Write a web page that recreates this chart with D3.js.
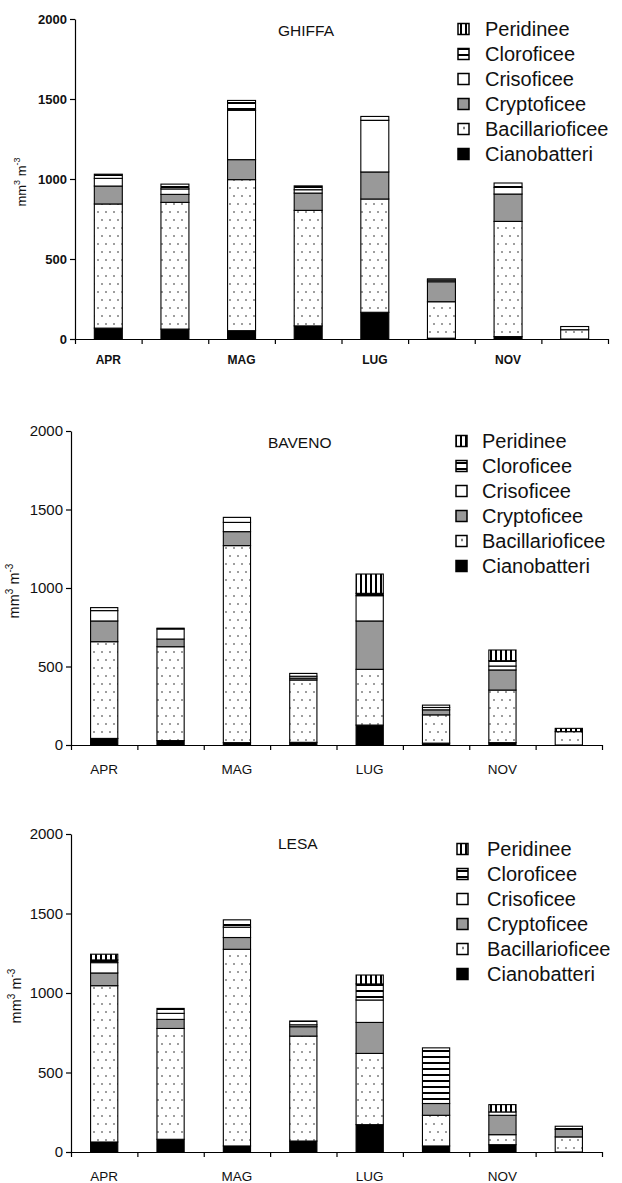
<!DOCTYPE html>
<html><head><meta charset="utf-8">
<script src="https://cdn.jsdelivr.net/npm/d3@7"></script>
<style>
body{margin:0;background:#fff;}
svg{display:block;}
text{font-family:"Liberation Sans",Arial,sans-serif;fill:#111;}
</style></head>
<body>
<svg id="chart" width="622" height="1183"></svg>
<script>
// ---- DATA ----
const categories = ["APR", "", "MAG", "", "LUG", "", "NOV", ""];
const seriesNames = ["Cianobatteri", "Bacillarioficee", "Cryptoficee", "Crisoficee", "Cloroficee", "Peridinee"];
const legendOrder = ["Peridinee", "Cloroficee", "Crisoficee", "Cryptoficee", "Bacillarioficee", "Cianobatteri"];
const yTicks = [0, 500, 1000, 1500, 2000];
const sites = ["GHIFFA", "BAVENO", "LESA"];

const ghiffaCianobatteri    = [68, 62, 52, 82, 167, 5, 15, 0];
const ghiffaBacillarioficee = [776, 792, 944, 722, 708, 228, 720, 58];
const ghiffaCryptoficee     = [112, 50, 125, 108, 169, 125, 171, 0];
const ghiffaCrisoficee      = [48, 34, 308, 21, 323, 10, 42, 0];
const ghiffaCloroficee      = [26, 30, 62, 24, 24, 8, 27, 20];
const ghiffaPeridinee       = [0, 0, 0, 0, 0, 0, 0, 0];

const bavenoCianobatteri    = [42, 28, 15, 17, 127, 12, 15, 0];
const bavenoBacillarioficee = [616, 598, 1255, 397, 355, 180, 335, 85];
const bavenoCryptoficee     = [132, 49, 89, 12, 308, 32, 128, 0];
const bavenoCrisoficee      = [66, 64, 59, 12, 161, 15, 25, 0];
const bavenoCloroficee      = [19, 0, 32, 18, 15, 15, 34, 0];
const bavenoPeridinee       = [0, 5, 0, 0, 123, 0, 68, 21];

const lesaCianobatteri      = [63, 80, 38, 69, 172, 38, 46, 0];
const lesaBacillarioficee   = [983, 697, 1237, 660, 448, 193, 63, 95];
const lesaCryptoficee       = [80, 57, 74, 59, 195, 74, 122, 48];
const lesaCrisoficee        = [65, 38, 65, 12, 141, 0, 21, 0];
const lesaCloroficee        = [17, 31, 46, 24, 101, 350, 0, 19];
const lesaPeridinee         = [36, 0, 0, 0, 56, 0, 46, 0];

const siteSeries = [
  [ghiffaCianobatteri, ghiffaBacillarioficee, ghiffaCryptoficee, ghiffaCrisoficee, ghiffaCloroficee, ghiffaPeridinee],
  [bavenoCianobatteri, bavenoBacillarioficee, bavenoCryptoficee, bavenoCrisoficee, bavenoCloroficee, bavenoPeridinee],
  [lesaCianobatteri, lesaBacillarioficee, lesaCryptoficee, lesaCrisoficee, lesaCloroficee, lesaPeridinee]
];

// ---- LAYOUT ----
const layouts = [
  {x0: 75, x1: 608, yTop: 19, yZero: 339, pad: 0.58, tickFont: 13, bold: true, titleX: 278, titleY: 36,
   xLabY: 364, xLabFont: 12, yLabX: 26, legSw: 458, legTx: 485, legY: 29},
  {x0: 71, x1: 602, yTop: 431, yZero: 745, pad: 0.59, tickFont: 15, bold: false, titleX: 268, titleY: 448,
   xLabY: 774, xLabFont: 13.5, yLabX: 19, legSw: 456, legTx: 482, legY: 441},
  {x0: 71, x1: 602, yTop: 834, yZero: 1152, pad: 0.59, tickFont: 15, bold: false, titleX: 278, titleY: 849,
   xLabY: 1181, xLabFont: 13.5, yLabX: 21, legSw: 457, legTx: 487, legY: 849}
];

const svg = d3.select("#chart");
const defs = svg.append("defs");

// patterns
const pDots = defs.append("pattern").attr("id", "dots").attr("patternUnits", "userSpaceOnUse")
  .attr("width", 8).attr("height", 16);
pDots.append("rect").attr("width", 8).attr("height", 16).attr("fill", "#fff");
pDots.append("circle").attr("cx", 2).attr("cy", 4).attr("r", 0.8).attr("fill", "#222");
pDots.append("circle").attr("cx", 6).attr("cy", 12).attr("r", 0.8).attr("fill", "#222");

const pDotsLeg = defs.append("pattern").attr("id", "dotsLeg").attr("patternUnits", "objectBoundingBox")
  .attr("width", 1).attr("height", 1);
pDotsLeg.append("rect").attr("width", 11).attr("height", 11).attr("fill", "#fff");
pDotsLeg.append("circle").attr("cx", 6).attr("cy", 4.5).attr("r", 1).attr("fill", "#222");

const pH = defs.append("pattern").attr("id", "hstripe").attr("patternUnits", "userSpaceOnUse")
  .attr("width", 8).attr("height", 6);
pH.append("rect").attr("width", 8).attr("height", 6).attr("fill", "#fff");
pH.append("rect").attr("y", 0).attr("width", 8).attr("height", 2).attr("fill", "#000");

const pV = defs.append("pattern").attr("id", "vstripe").attr("patternUnits", "userSpaceOnUse")
  .attr("width", 5).attr("height", 8);
pV.append("rect").attr("width", 5).attr("height", 8).attr("fill", "#fff");
pV.append("rect").attr("x", 0).attr("width", 2).attr("height", 8).attr("fill", "#000");

const fills = {
  Cianobatteri: "#000",
  Bacillarioficee: "url(#dots)",
  Cryptoficee: "#999",
  Crisoficee: "#fff",
  Cloroficee: "url(#hstripe)",
  Peridinee: "url(#vstripe)"
};
const legFills = Object.assign({}, fills, {Bacillarioficee: "url(#dotsLeg)"});

sites.forEach((site, si) => {
  const L = layouts[si];
  const g = svg.append("g");
  const rows = categories.map((c, i) => {
    const r = {idx: i};
    seriesNames.forEach((s, k) => r[s] = siteSeries[si][k][i]);
    return r;
  });
  const stack = d3.stack().keys(seriesNames)(rows);

  const x = d3.scaleBand().domain(d3.range(categories.length)).range([L.x0, L.x1])
    .paddingInner(L.pad).paddingOuter(L.pad / 2);
  const y = d3.scaleLinear().domain([0, 2000]).range([L.yZero, L.yTop]);

  // bars
  stack.forEach(layer => {
    g.append("g").selectAll("rect").data(layer.filter(d => d[1] - d[0] > 0)).join("rect")
      .attr("x", d => x(d.data.idx))
      .attr("width", x.bandwidth())
      .attr("y", d => y(d[1]))
      .attr("height", d => y(d[0]) - y(d[1]))
      .attr("fill", fills[layer.key])
      .attr("stroke", "#000")
      .attr("stroke-width", 1.1);
  });

  // y axis
  const yAx = g.append("g").attr("transform", `translate(${L.x0},0)`)
    .call(d3.axisLeft(y).tickValues(yTicks).tickFormat(d3.format("d")).tickSize(5).tickPadding(3).tickSizeOuter(0));
  yAx.select(".domain").attr("stroke", "#000").attr("stroke-width", 1.2);
  yAx.selectAll(".tick line").attr("stroke", "#000").attr("stroke-width", 1.2);
  yAx.selectAll("text").attr("font-size", L.tickFont).attr("fill", "#111")
    .attr("font-family", '"Liberation Sans",Arial,sans-serif')
    .attr("font-weight", L.bold ? "bold" : "normal");

  // x axis with boundary ticks
  const xT = d3.scaleLinear().domain([0, categories.length]).range([L.x0, L.x1]);
  const xAx = g.append("g").attr("transform", `translate(0,${L.yZero})`)
    .call(d3.axisBottom(xT).tickValues(d3.range(categories.length + 1)).tickSize(5).tickSizeOuter(0).tickFormat(""));
  xAx.select(".domain").attr("stroke", "#000").attr("stroke-width", 1.2);
  xAx.selectAll(".tick line").attr("stroke", "#000").attr("stroke-width", 1.2);

  g.append("g").selectAll("text").data(categories.map((c, i) => ({c, i})).filter(d => d.c)).join("text")
    .attr("x", d => x(d.i) + x.bandwidth() / 2)
    .attr("y", L.xLabY)
    .attr("text-anchor", "middle")
    .attr("font-size", L.xLabFont)
    .attr("font-weight", L.bold ? "bold" : "normal")
    .text(d => d.c);

  // title
  g.append("text").attr("x", L.titleX).attr("y", L.titleY)
    .attr("font-size", 15.5).attr("fill", "#222").text(site);

  // y label
  const yl = g.append("text")
    .attr("transform", `translate(${L.yLabX},${(L.yTop + L.yZero) / 2 + 3}) rotate(-90)`)
    .attr("text-anchor", "middle")
    .attr("font-size", L.bold ? 13 : 14.5);
  yl.append("tspan").text("mm");
  yl.append("tspan").attr("dy", -6).attr("font-size", L.bold ? 9 : 10).text("3");
  yl.append("tspan").attr("dy", 6).text(" m");
  yl.append("tspan").attr("dy", -6).attr("font-size", L.bold ? 9 : 10).text("-3");

  // legend
  const lg = g.append("g");
  legendOrder.forEach((name, k) => {
    const cy = L.legY + k * 25;
    lg.append("rect").attr("x", L.legSw).attr("y", cy - 5.5).attr("width", 11).attr("height", 11)
      .attr("fill", legFills[name]).attr("stroke", "#000").attr("stroke-width", 1.5);
    lg.append("text").attr("x", L.legTx).attr("y", cy + 7).attr("font-size", 20).text(name);
  });
});
</script>
</body></html>
